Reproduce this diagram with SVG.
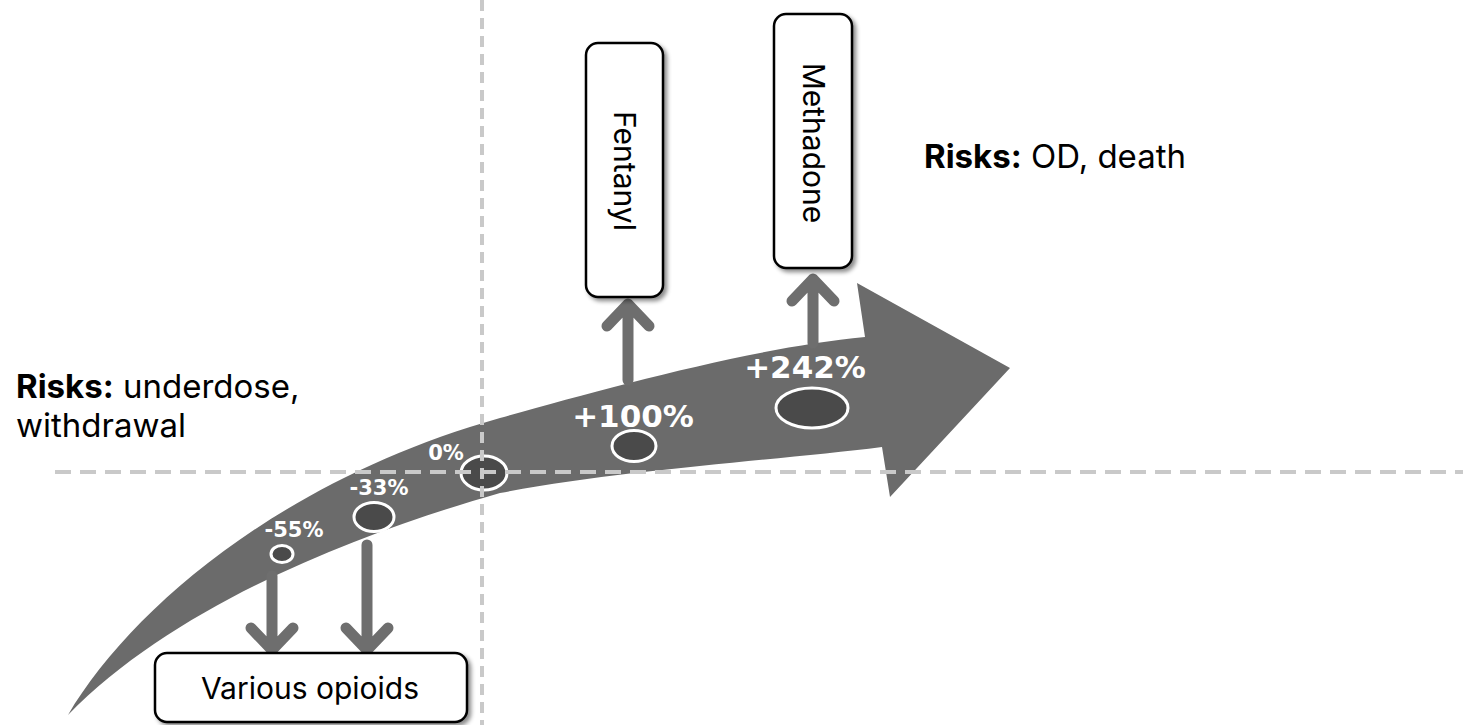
<svg xmlns="http://www.w3.org/2000/svg" width="1463" height="725" viewBox="0 0 1463 725">
  <style>
    .risk { font-family: Inter, "Liberation Sans", sans-serif; font-size: 33px; fill: #000; }
    .risk .b { font-weight: 700; }
    .box { fill: #fff; stroke: #000; stroke-width: 2.5; }
    .boxtext { font-family: Inter, "Liberation Sans", sans-serif; font-size: 30px; fill: #000; }
    .pct { font-family: "DejaVu Sans", Verdana, sans-serif; font-weight: 700; fill: #fff; }
    .dot { fill: #4a4a4a; stroke: #fff; stroke-width: 3; }
    .guide { fill: none; stroke: #c9c9c9; stroke-width: 4; }
    .link { fill: none; stroke: #6e6e6e; stroke-width: 11; stroke-linecap: round; stroke-linejoin: round; }
  </style>
  <defs>
    <filter id="shadow" x="-20%" y="-20%" width="140%" height="140%">
      <feDropShadow dx="3" dy="3" stdDeviation="2" flood-color="#000" flood-opacity="0.45"/>
    </filter>
  </defs>

  <rect width="1463" height="725" fill="#fff"/>

  <!-- curved trend arrow -->
  <g id="trend-arrow">
    <path fill="#6b6b6b" d="M68,715 C130,610 280,480 500,418 C600,390 750,348 865,337 L857,283 L1010,368 L890,497 L882,447 C780,460 620,470 500,493 C370,530 180,600 68,715 Z"/>
  </g>

  <!-- data points on the arrow -->
  <g id="point-55">
    <ellipse class="dot" cx="282" cy="554" rx="11" ry="8.5"/>
    <text class="pct" x="294" y="537" font-size="21" text-anchor="middle">-55%</text>
  </g>
  <g id="point-33">
    <ellipse class="dot" cx="374" cy="517" rx="20" ry="14.5"/>
    <text class="pct" x="379" y="495" font-size="21" text-anchor="middle">-33%</text>
  </g>
  <g id="point-0">
    <ellipse class="dot" cx="484" cy="473" rx="23" ry="17"/>
    <text class="pct" x="446" y="460" font-size="21" text-anchor="middle">0%</text>
  </g>
  <g id="point-100">
    <ellipse class="dot" cx="634" cy="446" rx="22" ry="15.5"/>
    <text class="pct" x="633" y="427" font-size="31" text-anchor="middle">+100%</text>
  </g>
  <g id="point-242">
    <ellipse class="dot" cx="812" cy="408" rx="36" ry="20"/>
    <text class="pct" x="805" y="378" font-size="31" text-anchor="middle">+242%</text>
  </g>

  <!-- reference axes -->
  <g id="guides">
    <line class="guide" x1="55" y1="472" x2="1463" y2="472" stroke-dasharray="16 9"/>
    <line class="guide" x1="482" y1="0" x2="482" y2="725" stroke-dasharray="11 7"/>
  </g>

  <!-- connectors -->
  <g id="connectors">
    <path class="link" d="M272,576 V650 M251,628 L272,650 L293,628"/>
    <path class="link" d="M367,545 V650 M346,628 L367,650 L388,628"/>
    <path class="link" d="M628,380 V304 M607,326 L628,304 L649,326"/>
    <path class="link" d="M813,343 V279 M792,301 L813,279 L834,301"/>
  </g>

  <!-- drug boxes -->
  <g id="fentanyl">
    <rect class="box" x="586" y="43" width="77" height="254" rx="12" filter="url(#shadow)"/>
    <text class="boxtext" transform="translate(614,171) rotate(90)" text-anchor="middle">Fentanyl</text>
  </g>
  <g id="methadone">
    <rect class="box" x="774" y="14" width="78" height="254" rx="12" filter="url(#shadow)"/>
    <text class="boxtext" transform="translate(803,143) rotate(90)" text-anchor="middle">Methadone</text>
  </g>
  <g id="various-opioids">
    <rect class="box" x="155" y="653" width="312" height="69" rx="12" filter="url(#shadow)"/>
    <text class="boxtext" x="310" y="699" text-anchor="middle">Various opioids</text>
  </g>

  <!-- risk annotations -->
  <g id="risks-high">
    <text class="risk" x="924" y="168"><tspan class="b">Risks:</tspan> OD, death</text>
  </g>
  <g id="risks-low">
    <text class="risk" x="16" y="398"><tspan class="b">Risks:</tspan> underdose,</text>
    <text class="risk" x="16" y="437">withdrawal</text>
  </g>
</svg>
